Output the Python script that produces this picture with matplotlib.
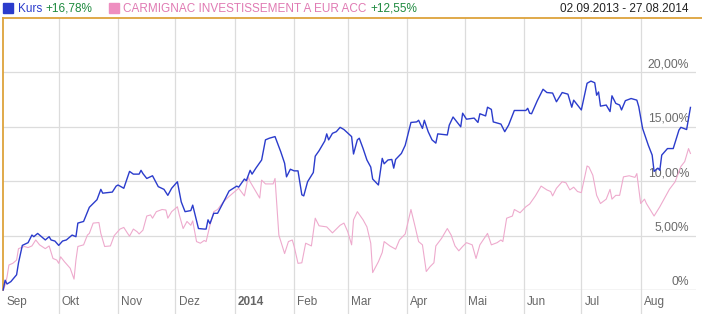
import datetime as dt
import matplotlib
matplotlib.use("Agg")
import matplotlib.pyplot as plt
import matplotlib.dates as mdates
from matplotlib.lines import Line2D
from matplotlib.patches import Rectangle

plt.rcParams['font.family'] = ['Liberation Sans', 'DejaVu Sans']

start = dt.datetime(2013, 9, 1)

# Kurs (blue), days since 01.09.2013 and performance in %
kurs_days = [1, 2, 3, 5, 8, 9, 11, 14, 16, 17, 19, 21, 23, 25, 26, 28, 30, 32, 34, 37,
             39, 40, 43, 46, 50, 52, 53, 58, 60, 61, 64, 66, 67, 69, 72, 73, 74, 76, 79, 82,
             85, 87, 89, 92, 94, 96, 99, 100, 103, 106, 107, 108, 109, 111, 113, 117, 119, 123, 124, 127,
             128, 130, 131, 133, 136, 138, 140, 143, 146, 148, 149, 151, 153, 155, 157, 158, 160, 163, 164, 166,
             169, 170, 171, 173, 175, 177, 179, 183, 184, 186, 187, 189, 191, 193, 194, 197, 199, 200, 202, 204,
             205, 206, 209, 211, 214, 217, 218, 220, 221, 223, 225, 227, 228, 233, 234, 236, 240, 241, 243, 247,
             249, 250, 253, 254, 256, 257, 261, 263, 265, 268, 271, 274, 275, 276, 277, 280, 283, 285, 288, 290,
             293, 296, 298, 299, 303, 306, 308, 310, 311, 312, 313, 316, 318, 319, 321, 323, 324, 326, 329, 332,
             333, 335, 338, 340, 341, 343, 344, 345, 348, 351, 354, 355, 358, 360]
kurs_vals = [0.0, 0.9, 0.55, 0.77, 1.4, 2.5, 4.1, 4.35, 5.05, 4.9, 5.2, 4.9, 4.6, 4.9, 4.6, 4.5, 4.1, 4.5, 4.6, 5.05,
             4.9, 6.15, 6.3, 7.6, 8.3, 9.25, 8.9, 9.0, 9.55, 9.65, 9.35, 10.4, 10.9, 10.65, 10.65, 11.0, 10.7, 10.25, 10.5, 9.5,
             9.25, 8.7, 9.35, 9.95, 8.1, 7.2, 7.3, 7.8, 5.65, 5.6, 5.6, 6.45, 6.1, 7.05, 7.05, 8.4, 9.1, 9.55, 9.45, 10.2,
             10.05, 11.0, 10.65, 11.2, 11.95, 13.8, 13.95, 14.1, 12.7, 11.65, 10.4, 11.1, 10.95, 10.95, 8.75, 8.65, 9.95, 10.8, 12.3, 12.8,
             13.7, 14.35, 13.8, 14.4, 14.55, 14.95, 14.75, 14.1, 12.5, 13.8, 13.95, 13.0, 11.95, 11.3, 10.2, 9.65, 12.1, 11.6, 11.95, 12.0,
             11.2, 12.0, 12.55, 13.3, 15.4, 15.45, 15.6, 14.85, 15.6, 14.55, 13.8, 13.5, 14.35, 14.25, 15.15, 15.9, 15.0, 16.25, 15.7, 15.8,
             15.4, 16.2, 16.0, 16.8, 16.6, 15.45, 15.25, 14.55, 15.15, 16.5, 16.5, 16.5, 16.7, 16.25, 16.2, 17.4, 18.45, 18.15, 18.1, 17.3,
             18.15, 18.0, 16.8, 17.45, 16.55, 19.0, 19.2, 19.05, 17.9, 18.2, 16.9, 17.0, 16.4, 17.85, 17.15, 17.0, 16.55, 17.4, 17.6, 17.45,
             16.85, 14.85, 13.3, 12.4, 10.9, 11.2, 11.0, 12.4, 13.0, 13.0, 14.7, 14.95, 14.75, 16.78]

# CARMIGNAC INVESTISSEMENT A EUR ACC (pink)
carm_days = [1, 2, 3, 4, 6, 8, 9, 12, 14, 16, 18, 20, 23, 25, 27, 29, 30, 31, 33, 36,
             38, 39, 40, 43, 45, 46, 48, 51, 52, 54, 57, 59, 62, 64, 66, 67, 69, 71, 72, 74,
             76, 78, 79, 81, 84, 86, 87, 89, 92, 93, 95, 97, 99, 100, 102, 104, 106, 107, 109, 111,
             113, 116, 119, 122, 124, 127, 129, 130, 133, 135, 136, 138, 142, 143, 145, 148, 150, 152, 153, 155,
             157, 159, 162, 164, 166, 170, 173, 177, 179, 181, 183, 184, 186, 189, 191, 193, 194, 197, 199, 200,
             203, 206, 208, 211, 214, 216, 218, 220, 222, 224, 226, 227, 230, 233, 235, 237, 239, 241, 243, 246,
             248, 250, 254, 256, 259, 261, 262, 264, 267, 268, 271, 274, 276, 279, 282, 285, 287, 288, 290, 293,
             295, 297, 299, 301, 303, 306, 307, 309, 311, 313, 316, 318, 319, 321, 323, 325, 328, 331, 332, 334,
             336, 337, 341, 344, 347, 349, 352, 355, 357, 359, 360]
carm_vals = [0.0, 0.45, 1.2, 2.3, 2.45, 2.75, 3.8, 4.0, 3.9, 4.05, 4.6, 4.15, 3.8, 4.05, 2.9, 2.75, 2.45, 3.05, 2.6, 2.0,
             1.0, 2.75, 4.0, 4.15, 5.05, 5.2, 6.15, 6.2, 5.2, 4.0, 4.05, 5.0, 5.6, 5.75, 5.2, 4.95, 5.6, 5.35, 5.15, 5.5,
             6.8, 6.9, 6.6, 7.2, 7.4, 7.35, 6.6, 7.2, 7.65, 6.9, 5.65, 6.3, 5.95, 6.35, 4.45, 4.3, 4.55, 4.45, 5.95, 7.2,
             7.4, 8.1, 8.6, 9.05, 9.35, 8.65, 10.4, 9.95, 9.05, 8.45, 10.1, 9.75, 9.75, 10.25, 5.05, 3.35, 4.45, 4.6, 4.0, 2.45,
             2.5, 4.3, 4.05, 6.6, 5.9, 5.8, 5.25, 5.95, 6.15, 5.35, 4.15, 6.45, 7.2, 6.45, 5.8, 4.3, 1.6, 2.6, 3.45, 4.45,
             4.05, 3.75, 4.6, 5.15, 7.4, 5.95, 4.45, 4.15, 1.7, 2.15, 2.5, 4.05, 4.75, 5.65, 5.05, 4.05, 3.6, 4.0, 4.35, 4.15,
             2.9, 4.15, 5.2, 4.15, 4.35, 4.6, 4.45, 6.6, 6.8, 7.4, 7.1, 7.65, 7.9, 8.65, 9.55, 9.2, 9.05, 8.65, 9.35, 9.95,
             9.85, 9.2, 9.45, 9.05, 8.95, 11.4, 11.3, 10.55, 8.7, 7.95, 8.35, 9.25, 8.35, 8.7, 8.7, 10.4, 10.5, 10.35, 10.7, 7.95,
             8.35, 7.95, 6.8, 7.65, 8.6, 9.25, 9.95, 11.35, 11.8, 13.0, 12.55]

y_ticks = [0, 5, 10, 15, 20]
y_labels = ['0%', '5,00%', '10,00%', '15,00%', '20,00%']
month_labels = ['Sep', 'Okt', 'Nov', 'Dez', '2014', 'Feb', 'Mar', 'Apr', 'Mai', 'Jun', 'Jul', 'Aug']
month_starts = [dt.datetime(2013, m, 1) for m in range(9, 13)] + [dt.datetime(2014, m, 1) for m in range(1, 9)]

kurs_dates = [start + dt.timedelta(days=d) for d in kurs_days]
carm_dates = [start + dt.timedelta(days=d) for d in carm_days]

W, H = 702, 314
fig = plt.figure(figsize=(W / 100, H / 100), dpi=100)
ax = fig.add_axes([3 / W, (H - 290) / H, (696 - 3) / W, (290 - 18) / H])

grid_c = '#dcdcdc'
orange = '#dda33c'

ax.set_xlim(start + dt.timedelta(days=0.9), start + dt.timedelta(days=362.9))
ax.set_ylim(0, 25)

for v in y_ticks[1:]:
    ax.axhline(v, color=grid_c, lw=0.9, zorder=1)
ax.axhline(0, color='#c8c8c8', lw=1.0, zorder=1)
for ms in month_starts[1:]:
    ax.axvline(ms, ymin=-24 / 272, ymax=1, color=grid_c, lw=0.9, clip_on=False, zorder=1)

for v, lab in zip(y_ticks, y_labels):
    ax.annotate(lab, xy=(0.99, v), xycoords=('axes fraction', 'data'),
                xytext=(0, 1.5), textcoords='offset points',
                ha='right', va='bottom', fontsize=8.7, color='#6a6a6a', zorder=2)

xmin = ax.get_xlim()[0]
for ms, lab in zip(month_starts, month_labels):
    x0 = max(mdates.date2num(ms), xmin)
    ax.annotate(lab, xy=(x0, 0), xycoords=('data', 'axes fraction'),
                xytext=(2.2, -8.6), textcoords='offset points',
                ha='left', va='center', fontsize=8.5, color='#666666',
                fontweight='bold' if lab == '2014' else 'normal', annotation_clip=False)

ax.plot(carm_dates, carm_vals, color='#eeaacd', lw=0.8, zorder=3, clip_on=False)
ax.plot(kurs_dates, kurs_vals, color='#2b3ccc', lw=1.0, zorder=4, clip_on=False)

for s in ['top', 'right', 'bottom']:
    ax.spines[s].set_visible(False)
ax.spines['left'].set_color(orange)
ax.spines['left'].set_linewidth(1.3)
ax.set_xticks([])
ax.set_yticks([])

fig.add_artist(Line2D([3 / W, 1], [1 - 18 / H, 1 - 18 / H], color=orange, lw=1.3))

# header legend
fig.add_artist(Rectangle((3 / W, 1 - 13 / H), 10 / W, 10 / H, color='#2b3ccc'))
fig.add_artist(Rectangle((109 / W, 1 - 13 / H), 10 / W, 10 / H, color='#ee8ec0'))
ty = 1 - 8.5 / H
fig.text(18 / W, ty, 'Kurs', color='#2b3ccc', fontsize=8.5, va='center')
fig.text(45 / W, ty, '+16,78%', color='#1d8a3e', fontsize=8.5, va='center')
fig.text(123 / W, ty, 'CARMIGNAC INVESTISSEMENT A EUR ACC', color='#e07ab3', fontsize=8.5, va='center')
fig.text(370 / W, ty, '+12,55%', color='#1d8a3e', fontsize=8.5, va='center')
fig.text(689 / W, ty, '02.09.2013 - 27.08.2014', color='#222222', fontsize=8.5, va='center', ha='right')

fig.savefig('out.png', dpi=100)
